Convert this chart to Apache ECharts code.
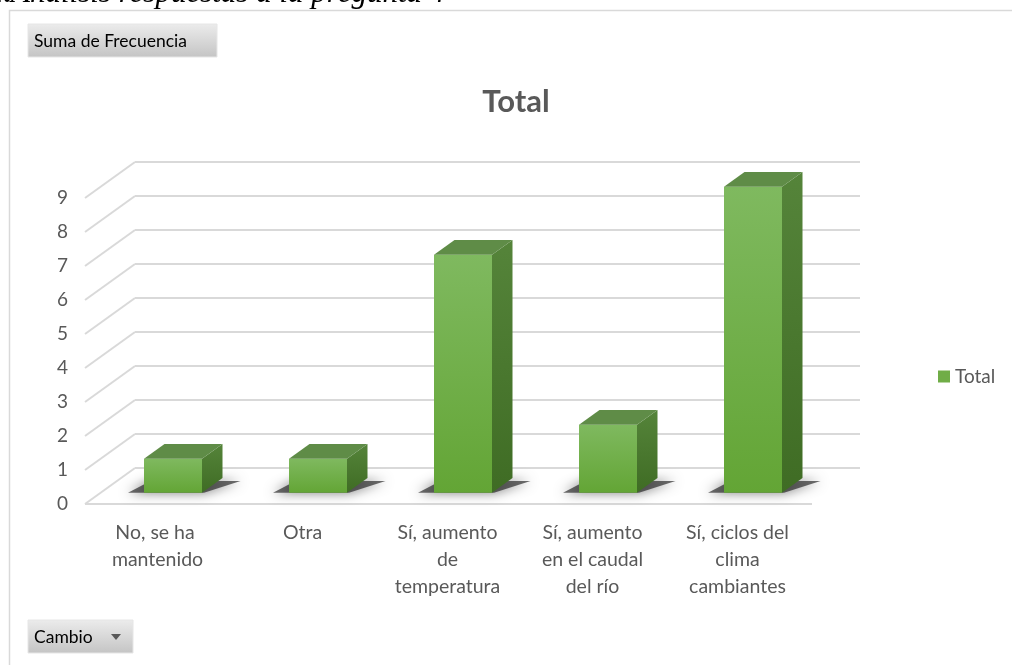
<!DOCTYPE html>
<html>
<head>
<meta charset="utf-8">
<style>
  html, body { margin: 0; padding: 0; background: #fff; }
  #chart { width: 1012px; height: 665px; }
</style>
<script src="https://cdn.jsdelivr.net/npm/echarts@6/dist/echarts.min.js"></script>
</head>
<body>
<div id="chart"></div>
<script>
const categories = ['No, se ha mantenido', 'Otra', 'Sí, aumento de temperatura', 'Sí, aumento en el caudal del río', 'Sí, ciclos del clima cambiantes']
const totals = [1, 1, 7, 2, 9]
const yTicks = [0, 1, 2, 3, 4, 5, 6, 7, 8, 9]

// depth of the fake 3d box (pixels, front -> back wall)
const DX = 50
const DY = -36
// bar sits between these fractions of the depth
const T0 = 0.31
const T1 = 0.72

const chart = echarts.init(document.getElementById('chart'))

function renderWall(params, api) {
  const cs = params.coordSys
  const v = api.value(1)
  const y = api.coord([0, v])[1]
  const style = { stroke: '#d9d9d9', lineWidth: 2 }
  const children = [
    { type: 'line', shape: { x1: cs.x, y1: y, x2: cs.x + DX, y2: y + DY }, style },
    { type: 'line', shape: { x1: cs.x + DX, y1: y + DY, x2: cs.x + cs.width + DX, y2: y + DY }, style }
  ]
  if (v === 0) {
    children.push({ type: 'line', shape: { x1: cs.x, y1: y, x2: cs.x + cs.width + 2, y2: y }, style })
  }
  return { type: 'group', children }
}

function renderBar(params, api) {
  const i = api.value(0)
  const v = api.value(1)
  const base = api.coord([i, 0])
  const top = api.coord([i, v])
  const band = api.size([1, 0])[0]
  const w = band * 0.4
  const xl = base[0] - w / 2 + T0 * DX
  const xr = xl + w
  const yb = base[1] + T0 * DY
  const yt = top[1] + T0 * DY
  const ddx = (T1 - T0) * DX
  const ddy = (T1 - T0) * DY
  return {
    type: 'group',
    children: [
      {
        type: 'polygon',
        shape: { points: [[xl - 16, yb], [xr + 2, yb], [xr + ddx + 18, yb + ddy + 3], [xl + ddx - 14, yb + ddy + 3]] },
        style: { fill: 'rgba(30,30,30,0.65)', shadowBlur: 12, shadowColor: 'rgba(0,0,0,0.8)' }
      },
      {
        type: 'rect',
        shape: { x: xl, y: yt, width: w, height: yb - yt },
        style: {
          fill: new echarts.graphic.LinearGradient(0, 0, 0, 1, [
            { offset: 0, color: '#7fb95f' },
            { offset: 1, color: '#63a535' }
          ])
        }
      },
      {
        type: 'polygon',
        shape: { points: [[xr, yt], [xr + ddx, yt + ddy], [xr + ddx, yb + ddy], [xr, yb]] },
        style: {
          fill: new echarts.graphic.LinearGradient(0, 0, 0, 1, [
            { offset: 0, color: '#55843a' },
            { offset: 1, color: '#3f6c24' }
          ])
        }
      },
      {
        type: 'polygon',
        shape: { points: [[xl, yt], [xr, yt], [xr + ddx, yt + ddy], [xl + ddx, yt + ddy]] },
        style: { fill: '#5f8c47' }
      }
    ]
  }
}

function button(x, y, w, h, label) {
  return {
    type: 'group',
    children: [
      {
        type: 'rect',
        shape: { x: x, y: y, width: w, height: h },
        style: {
          fill: new echarts.graphic.LinearGradient(0, 0, 0, 1, [
            { offset: 0, color: '#ececec' },
            { offset: 1, color: '#c4c4c4' }
          ]),
          stroke: '#e6e6e6',
          lineWidth: 1
        }
      },
      {
        type: 'text',
        style: { x: x + 6, y: y + h / 2 + 1, text: label, fill: '#000', font: '17.5px Lato', textVerticalAlign: 'middle' }
      }
    ]
  }
}

chart.setOption({
  backgroundColor: '#fff',
  animation: false,
  grid: {
    left: 85,
    right: 202,
    top: 198,
    bottom: 161
  },
  legend: {
    data: [{ name: 'Total', icon: 'rect' }],
    left: 933,
    top: 362,
    itemWidth: 12,
    itemHeight: 12,
    itemGap: 6,
    textStyle: { fontFamily: 'Lato', fontSize: 19, color: '#595959' }
  },
  xAxis: {
    type: 'category',
    data: categories,
    axisLine: { show: false },
    axisTick: { show: false },
    axisLabel: {
      interval: 0,
      margin: 15,
      fontFamily: 'Lato',
      fontSize: 19.5,
      color: '#595959',
      lineHeight: 27,
      width: 120,
      overflow: 'break'
    }
  },
  yAxis: {
    type: 'value',
    min: 0,
    max: 9,
    interval: 1,
    axisLine: { show: false },
    axisTick: { show: false },
    splitLine: { show: false },
    axisLabel: {
      margin: 17,
      fontFamily: 'Lato',
      fontSize: 19,
      color: '#595959'
    }
  },
  graphic: [
    {
      type: 'rect',
      shape: { x: 9.5, y: 10.5, width: 1100, height: 700 },
      style: { fill: 'none', stroke: '#d9d9d9', lineWidth: 1.5 }
    },
    {
      type: 'text',
      style: { x: 11, y: 9, text: '4.', fill: '#000', font: 'bold 31px "Liberation Serif"', textAlign: 'right', textVerticalAlign: 'bottom' }
    },
    {
      type: 'text',
      style: { x: 11, y: 9, text: 'Análisis respuestas a la pregunta 4', fill: '#000', font: 'italic 31px "Liberation Serif"', textVerticalAlign: 'bottom' }
    },
    button(28, 24, 189, 33, 'Suma de Frecuencia'),
    button(28, 620, 105, 33, 'Cambio'),
    {
      type: 'polygon',
      shape: { points: [[111, 634], [121, 634], [116, 640]] },
      style: { fill: '#595959' }
    },
    {
      type: 'text',
      style: { x: 516, y: 102, text: 'Total', fill: '#595959', font: 'bold 31px Lato', textAlign: 'center', textVerticalAlign: 'middle' }
    }
  ],
  series: [
    {
      name: 'walls',
      type: 'custom',
      silent: true,
      z: 1,
      renderItem: renderWall,
      data: yTicks.map(function(v) { return [0, v] })
    },
    {
      name: 'Total',
      type: 'custom',
      z: 2,
      itemStyle: { color: '#70ad47' },
      renderItem: renderBar,
      data: totals.map(function(v, i) { return [i, v] })
    }
  ]
})
</script>
</body>
</html>
